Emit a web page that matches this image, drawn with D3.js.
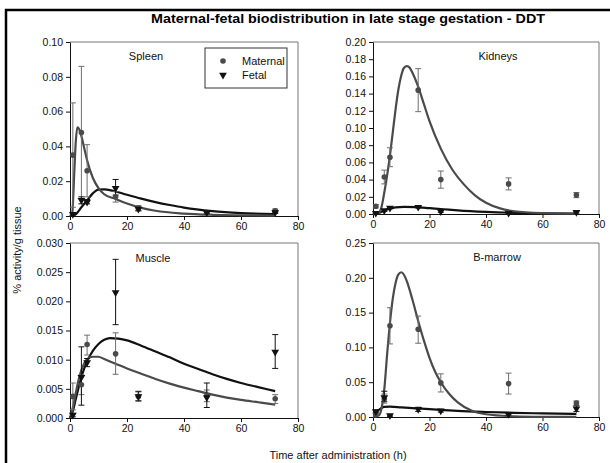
<!DOCTYPE html>
<html>
<head>
<meta charset="utf-8">
<script src="https://cdn.jsdelivr.net/npm/d3@7"></script>
<style>
  body { margin: 0; background: #fff; }
  svg { font-family: "Liberation Sans", Arial, sans-serif; }
</style>
</head>
<body>
<svg id="viz" width="610" height="463"></svg>
<script>
// sampling times (h)
const times = [1, 4, 6, 16, 24, 48, 72];

// Spleen
const spleenMat   = [0.035, 0.048, 0.026, 0.011, 0.0045, 0.002, 0.003];
const spleenMatLo = [0.005, 0.010, 0.011, 0.008, 0.003, 0.0015, 0.002];
const spleenMatHi = [0.065, 0.086, 0.041, 0.014, 0.006, 0.0025, 0.004];
const spleenFet   = [0.001, 0.009, 0.008, 0.016, 0.004, 0.002, 0.002];
const spleenFetLo = [0.0005, 0.007, 0.007, 0.012, 0.003, 0.0015, 0.0015];
const spleenFetHi = [0.0015, 0.011, 0.0095, 0.021, 0.005, 0.0025, 0.003];
const spleenMatFit = [[0,0],[0.8,0.002],[1.5,0.025],[2,0.042],[2.6,0.051],[3.2,0.05],[4,0.046],[5,0.039],[6,0.032],[8,0.022],[10,0.016],[12,0.0125],[16,0.0098],[20,0.0072],[25,0.0047],[30,0.003],[40,0.0014],[50,0.0007],[60,0.0004],[72,0.0002]];
const spleenFetFit = [[0,0],[2,0.001],[4,0.005],[6,0.009],[8,0.013],[10,0.0152],[12,0.0153],[15,0.0145],[20,0.0122],[25,0.01],[30,0.008],[35,0.0063],[40,0.0048],[50,0.0028],[60,0.0017],[72,0.0011]];

// Kidneys
const kidneyMat   = [0.009, 0.043, 0.066, 0.144, 0.040, 0.035, 0.022];
const kidneyMatLo = [0.007, 0.035, 0.055, 0.119, 0.030, 0.028, 0.019];
const kidneyMatHi = [0.011, 0.051, 0.077, 0.169, 0.050, 0.042, 0.025];
const kidneyFet   = [0.001, 0.004, 0.007, 0.008, 0.003, 0.001, 0.002];
const kidneyFetLo = [0.0005, 0.003, 0.006, 0.007, 0.002, 0.0005, 0.001];
const kidneyFetHi = [0.0015, 0.005, 0.008, 0.009, 0.004, 0.0015, 0.003];
const kidneyMatFit = [[0,0],[2,0.001],[3,0.008],[4,0.025],[5,0.045],[6,0.068],[7,0.095],[8,0.122],[9,0.145],[10,0.161],[11,0.17],[12,0.172],[13,0.17],[14,0.164],[16,0.148],[18,0.128],[20,0.108],[24,0.076],[28,0.052],[32,0.035],[36,0.022],[40,0.013],[45,0.0065],[50,0.0032],[60,0.001],[72,0.0003]];
const kidneyFetFit = [[0,0],[2,0.001],[4,0.004],[6,0.0065],[8,0.0078],[11,0.0083],[15,0.008],[20,0.0068],[25,0.0055],[30,0.0042],[40,0.0024],[50,0.0013],[60,0.0007],[72,0.0004]];

// Muscle
const muscleMat   = [0.0037, 0.0057, 0.0126, 0.011, 0.0037, 0.0038, 0.0033];
const muscleMatLo = [0.0014, 0.0040, 0.0108, 0.0075, 0.0030, 0.0028, 0.0025];
const muscleMatHi = [0.0060, 0.0074, 0.0142, 0.0146, 0.0046, 0.0048, 0.0040];
const muscleFet   = [0.0005, 0.007, 0.0095, 0.0215, 0.0037, 0.0035, 0.0113];
const muscleFetLo = [0.0002, 0.0022, 0.0088, 0.016, 0.0029, 0.0018, 0.0085];
const muscleFetHi = [0.0008, 0.0122, 0.0102, 0.0272, 0.0045, 0.0060, 0.0143];
const muscleMatFit = [[0,0],[1,0.0018],[2,0.0042],[3,0.0065],[4,0.0082],[5,0.0094],[6,0.0101],[8,0.0105],[10,0.0105],[12,0.0101],[16,0.0093],[20,0.0085],[25,0.0076],[30,0.0067],[35,0.0059],[40,0.0052],[45,0.0046],[50,0.004],[55,0.0035],[60,0.0031],[66,0.0027],[72,0.0023]];
const muscleFetFit = [[0,0],[1,0.0012],[2,0.0032],[3,0.0052],[4,0.007],[5,0.0085],[6,0.0097],[8,0.0115],[10,0.0127],[12,0.0134],[14,0.0137],[17,0.0136],[20,0.0133],[25,0.0124],[30,0.0114],[35,0.0104],[40,0.0093],[45,0.0084],[50,0.0075],[55,0.0067],[60,0.006],[66,0.0053],[72,0.0046]];

// B-marrow
const marrowMat   = [0.005, 0.026, 0.131, 0.126, 0.049, 0.048, 0.020];
const marrowMatLo = [0.003, 0.020, 0.105, 0.106, 0.036, 0.033, 0.017];
const marrowMatHi = [0.007, 0.033, 0.157, 0.145, 0.062, 0.063, 0.023];
const marrowFet   = [0.008, 0.028, 0.002, 0.011, 0.009, 0.004, 0.012];
const marrowFetLo = [0.006, 0.022, 0.001, 0.008, 0.007, 0.003, 0.008];
const marrowFetHi = [0.010, 0.037, 0.003, 0.014, 0.011, 0.005, 0.016];
const marrowMatFit = [[0,0],[2,0.002],[3,0.012],[4,0.04],[5,0.09],[6,0.135],[7,0.17],[8,0.193],[9,0.205],[10,0.208],[11,0.204],[12,0.195],[14,0.168],[16,0.138],[18,0.11],[20,0.085],[22,0.065],[24,0.05],[27,0.033],[30,0.021],[35,0.009],[40,0.004],[50,0.001],[60,0.0003],[72,0.0001]];
const marrowFetFit = [[0,0.004],[1,0.006],[2,0.01],[3,0.013],[4,0.0145],[6,0.0148],[10,0.0138],[15,0.0125],[20,0.0112],[25,0.01],[30,0.0088],[40,0.0072],[50,0.006],[60,0.0052],[72,0.0045]];

const xTicks = [0, 20, 40, 60, 80];

const matColor = "#4a4a4a", matBar = "#6e6e6e", fetColor = "#111";

const svg = d3.select("#viz");

// panel layout
const panels = [
  { name: "Spleen", box: [70, 298, 42, 216], ymax: 0.10, step: 0.02, fmt: ".2f", label: [146, 60],
    mat: spleenMat, matLo: spleenMatLo, matHi: spleenMatHi, fet: spleenFet, fetLo: spleenFetLo, fetHi: spleenFetHi,
    matFit: spleenMatFit, fetFit: spleenFetFit },
  { name: "Kidneys", box: [373, 599, 42, 214], ymax: 0.20, step: 0.02, fmt: ".2f", label: [498, 60],
    mat: kidneyMat, matLo: kidneyMatLo, matHi: kidneyMatHi, fet: kidneyFet, fetLo: kidneyFetLo, fetHi: kidneyFetHi,
    matFit: kidneyMatFit, fetFit: kidneyFetFit },
  { name: "Muscle", box: [70, 298, 243, 418], ymax: 0.030, step: 0.005, fmt: ".3f", label: [153, 262],
    mat: muscleMat, matLo: muscleMatLo, matHi: muscleMatHi, fet: muscleFet, fetLo: muscleFetLo, fetHi: muscleFetHi,
    matFit: muscleMatFit, fetFit: muscleFetFit },
  { name: "B-marrow", box: [373, 599, 243, 417], ymax: 0.25, step: 0.05, fmt: ".2f", label: [497, 261],
    mat: marrowMat, matLo: marrowMatLo, matHi: marrowMatHi, fet: marrowFet, fetLo: marrowFetLo, fetHi: marrowFetHi,
    matFit: marrowMatFit, fetFit: marrowFetFit }
];

panels.forEach(p => {
  const [x0, x1, y0, y1] = p.box;
  const x = d3.scaleLinear().domain([0, 80]).range([x0, x1]);
  const y = d3.scaleLinear().domain([0, p.ymax]).range([y1, y0]);
  const g = svg.append("g");

  // top/right frame
  g.append("path")
    .attr("d", `M${x0},${y0}H${x1}V${y1}`)
    .attr("fill", "none").attr("stroke", "#777").attr("stroke-width", 1);

  const yTicks = d3.range(0, p.ymax + p.step / 2, p.step);
  const ax = g.append("g").attr("transform", `translate(0,${y1})`)
    .call(d3.axisBottom(x).tickValues(xTicks).tickSize(4).tickSizeOuter(0).tickPadding(3));
  const ay = g.append("g").attr("transform", `translate(${x0},0)`)
    .call(d3.axisLeft(y).tickValues(yTicks).tickFormat(d3.format(p.fmt)).tickSize(4).tickSizeOuter(0).tickPadding(3));
  [ax, ay].forEach(a => {
    a.selectAll("text").attr("font-size", 10.5).attr("fill", "#111").attr("font-family", "Liberation Sans, Arial, sans-serif");
    a.select(".domain").attr("stroke", "#111");
    a.selectAll(".tick line").attr("stroke", "#111");
  });

  // fitted curves
  const line = d3.line().x(d => x(d[0])).y(d => y(d[1])).curve(d3.curveMonotoneX);
  g.append("path").datum(p.fetFit).attr("d", line)
    .attr("fill", "none").attr("stroke", fetColor).attr("stroke-width", 2.2);
  g.append("path").datum(p.matFit).attr("d", line)
    .attr("fill", "none").attr("stroke", matColor).attr("stroke-width", 2.2);

  // error bars
  function bars(lo, hi, color) {
    const data = times.map((t, i) => ({ t, lo: lo[i], hi: hi[i] }));
    const eb = g.append("g").attr("stroke", color).attr("stroke-width", 1).attr("fill", "none");
    eb.selectAll("path").data(data).join("path")
      .attr("d", d => {
        const cx = x(d.t), a = y(d.lo), b = y(d.hi);
        return `M${cx},${a}V${b}M${cx - 3},${a}H${cx + 3}M${cx - 3},${b}H${cx + 3}`;
      });
  }
  bars(p.matLo, p.matHi, matBar);
  bars(p.fetLo, p.fetHi, fetColor);

  // markers
  g.selectAll("circle.mat").data(times.map((t, i) => [t, p.mat[i]])).join("circle")
    .attr("class", "mat")
    .attr("cx", d => x(d[0])).attr("cy", d => y(d[1])).attr("r", 2.8)
    .attr("fill", matColor);
  const tri = d3.symbol(d3.symbolTriangle, 26);
  g.selectAll("path.fet").data(times.map((t, i) => [t, p.fet[i]])).join("path")
    .attr("class", "fet")
    .attr("d", tri)
    .attr("transform", d => `translate(${x(d[0])},${y(d[1])}) rotate(180)`)
    .attr("fill", fetColor);

  g.append("text").attr("x", p.label[0]).attr("y", p.label[1])
    .attr("text-anchor", "middle").attr("font-size", 11).attr("fill", "#111")
    .text(p.name);
});

// legend in spleen panel
const leg = svg.append("g");
leg.append("rect").attr("x", 205).attr("y", 48).attr("width", 82).attr("height", 40)
  .attr("fill", "#fff").attr("stroke", "#333").attr("stroke-width", 1);
leg.append("circle").attr("cx", 223).attr("cy", 61).attr("r", 2.8).attr("fill", matColor);
leg.append("path").attr("d", d3.symbol(d3.symbolTriangle, 26))
  .attr("transform", "translate(223,75) rotate(180)").attr("fill", fetColor);
leg.append("text").attr("x", 242).attr("y", 65).attr("font-size", 11).attr("fill", "#111").text("Maternal");
leg.append("text").attr("x", 242).attr("y", 79).attr("font-size", 11).attr("fill", "#111").text("Fetal");

// outer frame (top and left)
svg.append("path").attr("d", "M6,463V10H610")
  .attr("fill", "none").attr("stroke", "#000").attr("stroke-width", 2.5);

svg.append("text").attr("x", 348).attr("y", 23).attr("text-anchor", "middle")
  .attr("font-size", 13).attr("font-weight", "bold").attr("fill", "#000")
  .attr("textLength", 394).attr("lengthAdjust", "spacingAndGlyphs")
  .text("Maternal-fetal biodistribution in late stage gestation - DDT");

svg.append("text").attr("transform", "translate(21,250) rotate(-90)")
  .attr("text-anchor", "middle").attr("font-size", 11).attr("fill", "#111")
  .text("% activity/g tissue");

svg.append("text").attr("x", 338).attr("y", 459).attr("text-anchor", "middle")
  .attr("font-size", 11).attr("fill", "#111")
  .text("Time after administration (h)");
</script>
</body>
</html>
